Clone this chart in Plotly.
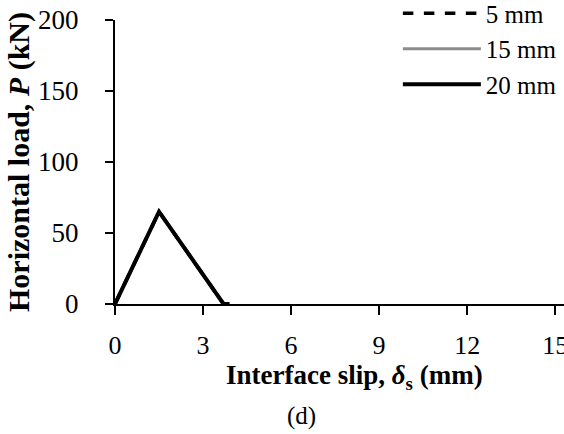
import plotly.graph_objects as go

series_names = ["5 mm", "15 mm", "20 mm"]
slip_5 = [0.0, 1.5, 3.7, 3.9]
load_5 = [0.0, 65.0, 0.0, 0.0]
slip_15 = [0.0, 1.5, 3.7, 3.9]
load_15 = [0.0, 65.0, 0.0, 0.0]
slip_20 = [0.0, 1.5, 3.7, 3.9]
load_20 = [0.0, 65.0, 0.0, 0.0]
x_ticks = [0, 3, 6, 9, 12, 15]
y_ticks = [0, 50, 100, 150, 200]

FONT = "Liberation Serif"

fig = go.Figure()
fig.add_trace(go.Scatter(x=slip_5, y=load_5, mode="lines", name=series_names[0],
                         legendgroup="a",
                         line=dict(color="black", width=3.5, dash="dash")))
fig.add_trace(go.Scatter(x=slip_15, y=load_15, mode="lines", name=series_names[1],
                         legendgroup="b",
                         line=dict(color="#8c8c8c", width=3)))
fig.add_trace(go.Scatter(x=slip_20, y=load_20, mode="lines", name=series_names[2],
                         legendgroup="c",
                         line=dict(color="black", width=4)))

fig.update_layout(
    width=564, height=434,
    margin=dict(l=115, r=0, t=20, b=130, autoexpand=False),
    paper_bgcolor="white", plot_bgcolor="white",
    font=dict(family=FONT, color="black", size=26),
    showlegend=True,
    legend=dict(x=0.63, y=1.104, xanchor="left", yanchor="top",
                bgcolor="rgba(0,0,0,0)", font=dict(size=25, family=FONT),
                itemwidth=78, traceorder="grouped", tracegroupgap=0),
    xaxis=dict(range=[0, 15.3], tickvals=x_ticks, showgrid=False, zeroline=False,
               showline=True, linecolor="black", linewidth=2, automargin=False,
               ticks="outside", ticklen=9, tickwidth=1.5, tickcolor="black",
               ticklabeloverflow="allow", ticklabelstandoff=8,
               tickfont=dict(size=26, family=FONT)),
    yaxis=dict(range=[0, 200], tickvals=y_ticks, showgrid=False, zeroline=False,
               showline=True, linecolor="black", linewidth=2, automargin=False,
               ticks="outside", ticklen=8, tickwidth=1.5, tickcolor="black",
               ticklabelstandoff=21,
               tickfont=dict(size=27, family=FONT),
               title=dict(text="<b>Horizontal load, <i>P</i> (kN)</b>",
                          font=dict(size=30, family=FONT), standoff=0)),
)

fig.add_annotation(text="<b>Interface slip, <i>δ</i><sub>s</sub> (mm)</b>",
                   xref="paper", yref="paper", x=0.5345, y=-0.257,
                   showarrow=False, font=dict(size=27, family=FONT),
                   xanchor="center", yanchor="middle")
fig.add_annotation(text="(d)", xref="paper", yref="paper", x=0.416, y=-0.394,
                   showarrow=False, font=dict(size=25, family=FONT),
                   xanchor="center", yanchor="middle")

fig.write_html("out.html")
